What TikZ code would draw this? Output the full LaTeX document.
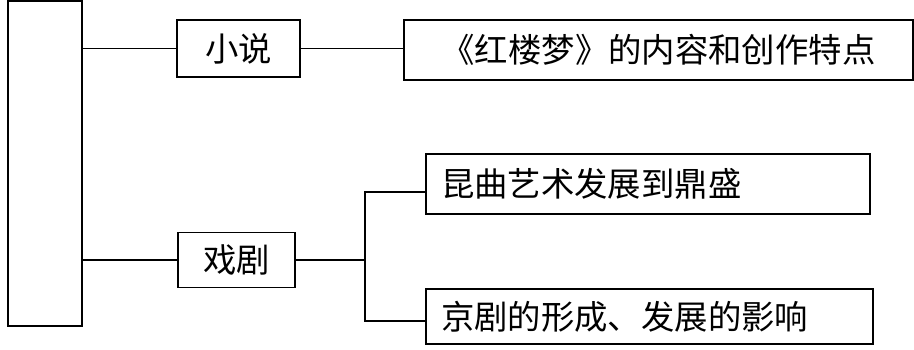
\documentclass[tikz,border=0pt]{standalone}
\usepackage{fontspec}
\newfontfamily\cjk{Noto Sans CJK SC}
\tikzset{
  line cap=rect,
}

\begin{document}
\begin{tikzpicture}[
  x=0.02cm,y=-0.02cm,
  every node/.style={font=\cjk\fontsize{19}{23}\selectfont},
  box/.style={draw,line width=1.1pt,inner sep=0pt},
  lbox/.style={box,align=left,inner xsep=0.3cm,minimum height=1.15cm},
  ln/.style={line width=1.1pt}
]
\useasboundingbox (0,0) rectangle (914,350);

\node[box,minimum width=1.48cm,minimum height=6.5cm] (root) at (45,163.5) {};

\node[box,minimum width=2.46cm,minimum height=1.14cm] (xs) at (238.5,48.5) {小说};
\node[box,minimum width=10.18cm,minimum height=1.2cm] (hlm) at (658.5,50) {《红楼梦》的内容和创作特点};

\node[box,minimum width=2.34cm,minimum height=1.1cm] (xj) at (236.5,260) {戏剧};
\coordinate (jn) at (365,260);

\node[lbox,text width=8.28cm,minimum height=1.2cm] (kq) at (648,184) {昆曲艺术发展到鼎盛};
\node[lbox,text width=8.34cm,minimum height=1.1cm] (jj) at (649.5,316.5) {京剧的形成、发展的影响};

\draw[ln] (root.east |- xs) -- (xs);
\draw[ln] (xs.east) -- (xs.east -| hlm.west);

\draw[ln] (root.east |- xj) -- (xj);
\draw[ln] (xj) -- (jn);
\draw[ln] ([yshift=-0.16cm]kq.west) -| (jn) |- ([yshift=-0.09cm]jj.west);

\end{tikzpicture}
\end{document}
